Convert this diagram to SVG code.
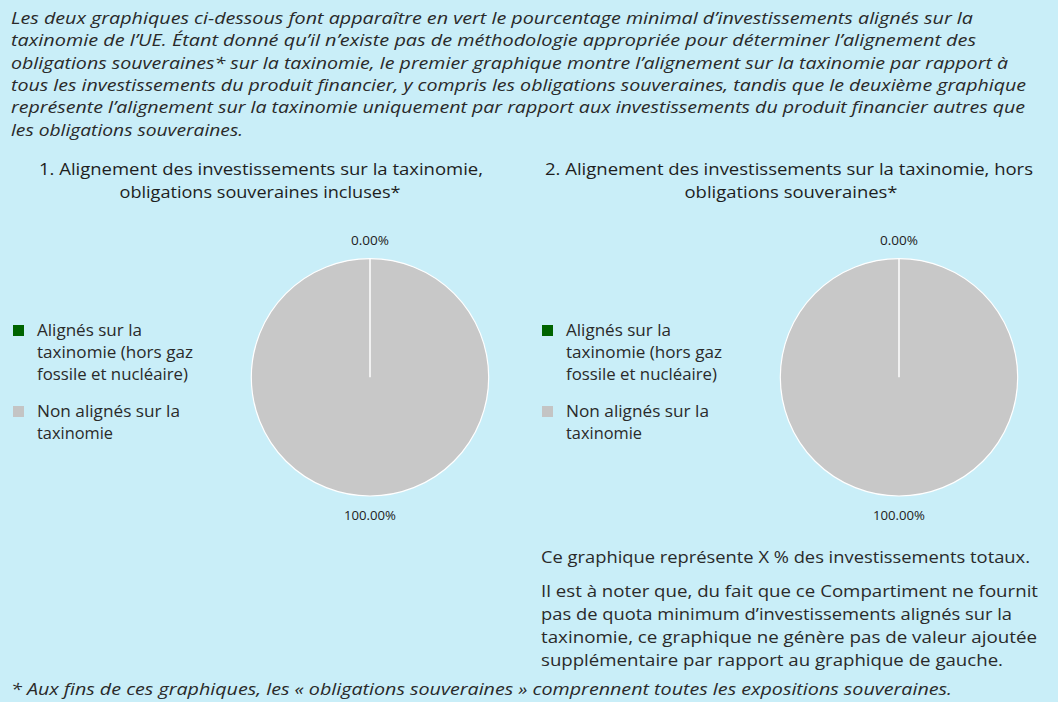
<svg xmlns="http://www.w3.org/2000/svg" width="1058" height="702" viewBox="0 0 1058 702">
<style>
.it{font-family:"Open Sans","Noto Sans","Liberation Sans",sans-serif;font-style:italic;font-size:15.5px;fill:#2a2a2a}
.rg{font-family:"Open Sans","Noto Sans","Liberation Sans",sans-serif;font-size:15.5px;fill:#2a2a2a}
.tt{font-family:"Open Sans","Noto Sans","Liberation Sans",sans-serif;font-size:16px;fill:#1e1e1e;text-anchor:middle}
.pc{font-family:"Open Sans","Liberation Sans",sans-serif;font-size:13px;fill:#222;text-anchor:middle}
.pie{fill:#c8c8c8;stroke:#ffffff;stroke-width:1.2}
.cut{stroke:#ffffff;stroke-width:1.5}
.g{fill:#006400}
.n{fill:#c4c4c4}
</style>
<rect x="0" y="0" width="1058" height="702" fill="#c9eef8"/>
<g id="intro">
<text class="it" x="11" y="24" textLength="962" lengthAdjust="spacingAndGlyphs">Les deux graphiques ci-dessous font apparaître en vert le pourcentage minimal d’investissements alignés sur la</text>
<text class="it" x="11" y="46" textLength="965" lengthAdjust="spacingAndGlyphs">taxinomie de l’UE. Étant donné qu’il n’existe pas de méthodologie appropriée pour déterminer l’alignement des</text>
<text class="it" x="11" y="69" textLength="997" lengthAdjust="spacingAndGlyphs">obligations souveraines* sur la taxinomie, le premier graphique montre l’alignement sur la taxinomie par rapport à</text>
<text class="it" x="11" y="91" textLength="1015" lengthAdjust="spacingAndGlyphs">tous les investissements du produit financier, y compris les obligations souveraines, tandis que le deuxième graphique</text>
<text class="it" x="11" y="113" textLength="1014" lengthAdjust="spacingAndGlyphs">représente l’alignement sur la taxinomie uniquement par rapport aux investissements du produit financier autres que</text>
<text class="it" x="11" y="136" textLength="232" lengthAdjust="spacingAndGlyphs">les obligations souveraines.</text>
</g>
<g id="chart1">
<text class="tt" x="261" y="175" textLength="444" lengthAdjust="spacingAndGlyphs">1. Alignement des investissements sur la taxinomie,</text>
<text class="tt" x="260" y="198" textLength="281" lengthAdjust="spacingAndGlyphs">obligations souveraines incluses*</text>
<rect class="g" x="13" y="325" width="11" height="11"/>
<text class="rg" x="37" y="336" textLength="105" lengthAdjust="spacingAndGlyphs">Alignés sur la</text>
<text class="rg" x="37" y="358" textLength="156" lengthAdjust="spacingAndGlyphs">taxinomie (hors gaz</text>
<text class="rg" x="37" y="380" textLength="151" lengthAdjust="spacingAndGlyphs">fossile et nucléaire)</text>
<rect class="n" x="13" y="406" width="11" height="11"/>
<text class="rg" x="37" y="417" textLength="143" lengthAdjust="spacingAndGlyphs">Non alignés sur la</text>
<text class="rg" x="37" y="439" textLength="76" lengthAdjust="spacingAndGlyphs">taxinomie</text>
<circle class="pie" cx="370" cy="377.3" r="118.7"/>
<line class="cut" x1="370" y1="258.6" x2="370" y2="377.3"/>
<text class="pc" x="370" y="245" textLength="38" lengthAdjust="spacingAndGlyphs">0.00%</text>
<text class="pc" x="370" y="520" textLength="52" lengthAdjust="spacingAndGlyphs">100.00%</text>
</g>
<g id="chart2">
<text class="tt" x="789" y="175" textLength="488" lengthAdjust="spacingAndGlyphs">2. Alignement des investissements sur la taxinomie, hors</text>
<text class="tt" x="791" y="198" textLength="213" lengthAdjust="spacingAndGlyphs">obligations souveraines*</text>
<rect class="g" x="542" y="325" width="11" height="11"/>
<text class="rg" x="566" y="336" textLength="105" lengthAdjust="spacingAndGlyphs">Alignés sur la</text>
<text class="rg" x="566" y="358" textLength="156" lengthAdjust="spacingAndGlyphs">taxinomie (hors gaz</text>
<text class="rg" x="566" y="380" textLength="151" lengthAdjust="spacingAndGlyphs">fossile et nucléaire)</text>
<rect class="n" x="542" y="406" width="11" height="11"/>
<text class="rg" x="566" y="417" textLength="143" lengthAdjust="spacingAndGlyphs">Non alignés sur la</text>
<text class="rg" x="566" y="439" textLength="76" lengthAdjust="spacingAndGlyphs">taxinomie</text>
<circle class="pie" cx="899" cy="377.3" r="118.7"/>
<line class="cut" x1="899" y1="258.6" x2="899" y2="377.3"/>
<text class="pc" x="899" y="245" textLength="38" lengthAdjust="spacingAndGlyphs">0.00%</text>
<text class="pc" x="899" y="520" textLength="52" lengthAdjust="spacingAndGlyphs">100.00%</text>
</g>
<g id="notes">
<text class="rg" x="541" y="563" textLength="489" lengthAdjust="spacingAndGlyphs">Ce graphique représente X % des investissements totaux.</text>
<text class="rg" x="541" y="597" textLength="497" lengthAdjust="spacingAndGlyphs">Il est à noter que, du fait que ce Compartiment ne fournit</text>
<text class="rg" x="541" y="620" textLength="471" lengthAdjust="spacingAndGlyphs">pas de quota minimum d’investissements alignés sur la</text>
<text class="rg" x="541" y="643" textLength="496" lengthAdjust="spacingAndGlyphs">taxinomie, ce graphique ne génère pas de valeur ajoutée</text>
<text class="rg" x="541" y="666" textLength="462" lengthAdjust="spacingAndGlyphs">supplémentaire par rapport au graphique de gauche.</text>
<text class="it" x="11" y="695" textLength="941" lengthAdjust="spacingAndGlyphs">* Aux fins de ces graphiques, les « obligations souveraines » comprennent toutes les expositions souveraines.</text>
</g>
</svg>
